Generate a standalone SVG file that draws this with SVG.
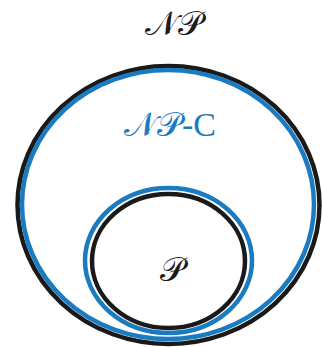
<svg xmlns="http://www.w3.org/2000/svg" width="322" height="347" viewBox="0 0 322 347">
<style>
.k{fill:none;stroke:#1a1a1a;stroke-width:4.5}
.b{fill:none;stroke:#1b7bc0;stroke-width:4.5}
.t{font-family:"DejaVu Sans","Noto Sans",serif;font-size:34px}
.s{font-family:"Liberation Serif",serif;font-size:34px}
</style>
<rect width="322" height="347" fill="#fff"/>
<g id="np">
<ellipse class="k" cx="168.5" cy="205" rx="151" ry="139"/>
<text class="t" x="174" y="35" text-anchor="middle" fill="#1a1a1a">𝒩𝒫</text>
</g>
<g id="npc">
<ellipse class="b" cx="168" cy="204.5" rx="146" ry="134.5"/>
<text class="t" x="170" y="136" text-anchor="middle" fill="#1b7bc0">𝒩𝒫<tspan class="s">-C</tspan></text>
</g>
<g id="p">
<ellipse class="b" cx="168.5" cy="260.5" rx="83.5" ry="72.5"/>
<ellipse class="k" cx="168.5" cy="261" rx="76.5" ry="67"/>
<text class="t" x="172" y="281" text-anchor="middle" fill="#1a1a1a">𝒫</text>
</g>
<g id="connectors"/>
</svg>
